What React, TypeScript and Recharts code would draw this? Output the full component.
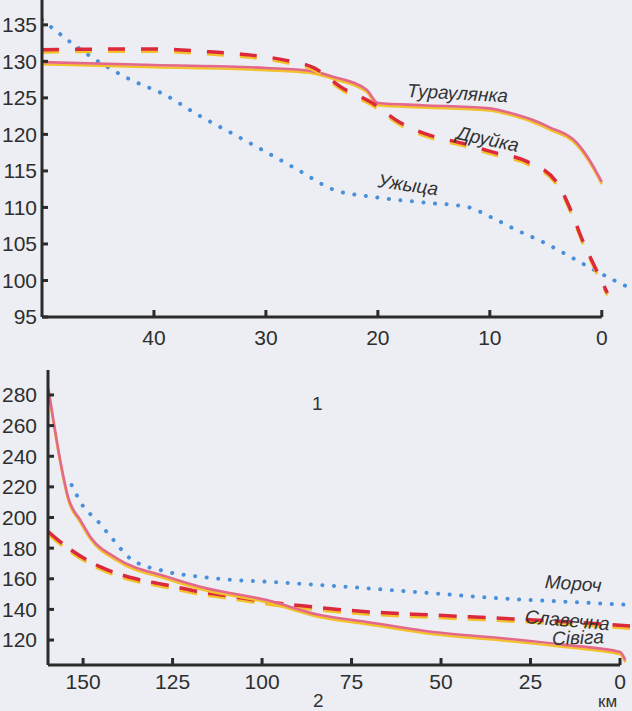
import React from "react";
import { LineChart, Line, XAxis, YAxis, ReferenceLine } from "recharts";

// top chart: rivers 1
const topKmTicks = [40, 30, 20, 10, 0];
const topHTicks = [95, 100, 105, 110, 115, 120, 125, 130, 135];

const turaulyankaKm = [50, 40, 30, 26, 24, 21, 20, 16, 10.3, 7.6, 6.2, 4.7, 2.2, 1.1, 0];
const turaulyankaH = [129.9, 129.5, 129.1, 128.7, 127.9, 126.1, 124.3, 124.0, 123.6, 122.7, 122.0, 121.0, 118.8, 116.5, 113.5];

const druykaKm = [50, 40, 35, 31.6, 28.4, 25.7, 23.2, 20.5, 18.1, 15.4, 12.5, 9.8, 6.7, 4.0, 2.9, 1.8, 0.6, -0.5];
const druykaH = [131.6, 131.7, 131.3, 130.9, 130.2, 129.1, 126.4, 124.3, 121.7, 119.9, 118.8, 117.6, 116.3, 113.4, 110.1, 105.8, 101.8, 98.3];

const uzhytsaKm = [50, 45, 42.1, 39, 36.1, 33.1, 30, 27.1, 23.9, 20.2, 15.4, 12.1, 9.8, 7.6, 5.3, 3.1, 1.1, -1.0, -2.5];
const uzhytsaH = [135.7, 130.0, 127.5, 125.4, 122.7, 120.2, 117.6, 115.1, 112.4, 111.4, 110.6, 110.1, 108.6, 106.9, 105.3, 103.5, 101.8, 100.1, 99.0];

// bottom chart: rivers 2
const botKmTicks = [150, 125, 100, 75, 50, 25, 0];
const botHTicks = [120, 140, 160, 180, 200, 220, 240, 260, 280];

const sivigaKm = [159.7, 158.3, 156.4, 154.1, 150.8, 148.0, 140.6, 126.6, 117.3, 98.7, 83.8, 70.7, 52.2, 33.5, 14.8, 0, -1.5];
const sivigaH = [284.4, 263.7, 237.6, 212.6, 198.4, 187.5, 173.4, 161.3, 154.8, 146.1, 136.3, 131.8, 125.2, 121.3, 116.7, 112.2, 106.9];

const slavechnaKm = [159.7, 154.6, 145.3, 135.9, 126.6, 117.3, 108, 98.7, 89.4, 70.8, 52.2, 33.5, 14.9, -2.8];
const slavechnaH = [190.7, 180.9, 167.9, 160.3, 155.9, 151.5, 148.3, 145.0, 142.5, 138.5, 136.3, 134.2, 132.0, 129.1];

const morochKm = [153.2, 149.9, 146.2, 141.5, 136.9, 126.6, 117.3, 108, 98.7, 83.8, 70.8, 52.2, 33.5, 14.9, -2.8];
const morochH = [221.2, 207.1, 198.4, 185.3, 173.4, 164.6, 161.3, 159.2, 158.1, 155.9, 153.8, 150.5, 147.2, 145.0, 142.9];

const zip = (km: number[], h: number[]) => km.map((k, i) => ({ km: k, h: h[i] }));

const ink = "#2b2b2b";
const pink = "#e4688a";
const red = "#dc2a3c";
const yellow = "#f2c12b";
const blue = "#4a8fdc";
const font = "'Liberation Sans', Arial, sans-serif";
const tickText = { fill: "#2e2e2e", fontSize: 21, fontFamily: font };

const label = (text: string, left: number, top: number, rot: number, size = 19) => (
  <div
    style={{
      position: "absolute",
      left,
      top,
      fontFamily: font,
      fontStyle: "italic",
      fontSize: size,
      color: "#333",
      transform: `rotate(${rot}deg)`,
      transformOrigin: "left center",
      whiteSpace: "nowrap",
    }}
  >
    {text}
  </div>
);

function SolidPair({ data }: { data: { km: number; h: number }[] }) {
  return null;
}

export default function App() {
  return (
    <div style={{ position: "absolute", left: 0, top: 0, width: 632, height: 711, background: "#eceef3", overflow: "hidden" }}>
      <div style={{ position: "absolute", left: 0, top: 0 }}>
        <LineChart width={632} height={360} margin={{ top: 0, right: 0, left: 0, bottom: 0 }}>
          <XAxis
            type="number"
            dataKey="km"
            domain={[-2.7, 50]}
            reversed
            allowDataOverflow
            ticks={topKmTicks}
            height={43}
            axisLine={false}
            tickSize={-7}
            tickMargin={20}
            tickLine={{ stroke: ink, strokeWidth: 3 }}
            tick={tickText}
          />
          <YAxis
            type="number"
            dataKey="h"
            domain={[95, 138.4]}
            allowDataOverflow
            ticks={topHTicks}
            width={42}
            tickSize={-6}
            tickMargin={11}
            axisLine={{ stroke: ink, strokeWidth: 3 }}
            tickLine={{ stroke: ink, strokeWidth: 3 }}
            tick={tickText}
          />
          <ReferenceLine segment={[{ x: 50, y: 95 }, { x: 0, y: 95 }]} stroke={ink} strokeWidth={3} ifOverflow="visible" />
          <Line data={zip(uzhytsaKm, uzhytsaH)} dataKey="h" type="monotone" stroke={blue} strokeWidth={4} strokeDasharray="0.1 11.5" strokeLinecap="round" dot={false} isAnimationActive={false} />
          <Line data={zip(turaulyankaKm, turaulyankaH)} dataKey="h" type="monotone" stroke={yellow} strokeWidth={2.6} transform="translate(0,2.2)" dot={false} isAnimationActive={false} />
          <Line data={zip(turaulyankaKm, turaulyankaH)} dataKey="h" type="monotone" stroke={pink} strokeWidth={2.6} dot={false} isAnimationActive={false} />
          <Line data={zip(druykaKm, druykaH)} dataKey="h" type="monotone" stroke={yellow} strokeWidth={3} strokeDasharray="17 16" transform="translate(0,2.5)" dot={false} isAnimationActive={false} />
          <Line data={zip(druykaKm, druykaH)} dataKey="h" type="monotone" stroke={red} strokeWidth={3.5} strokeDasharray="17 16" dot={false} isAnimationActive={false} />
        </LineChart>
      </div>

      <div style={{ position: "absolute", left: 0, top: 360 }}>
        <LineChart width={632} height={351} margin={{ top: 10, right: 0, left: 0, bottom: 0 }}>
          <XAxis
            type="number"
            dataKey="km"
            domain={[-3.35, 159.8]}
            reversed
            allowDataOverflow
            ticks={botKmTicks}
            height={46}
            axisLine={false}
            tickSize={-7}
            tickMargin={16}
            tickLine={{ stroke: ink, strokeWidth: 3 }}
            tick={tickText}
          />
          <YAxis
            type="number"
            dataKey="h"
            domain={[103.7, 296.3]}
            allowDataOverflow
            ticks={botHTicks}
            width={48}
            tickSize={-6}
            tickMargin={17}
            axisLine={{ stroke: ink, strokeWidth: 3 }}
            tickLine={{ stroke: ink, strokeWidth: 3 }}
            tick={tickText}
          />
          <ReferenceLine segment={[{ x: 159.8, y: 103.7 }, { x: 0, y: 103.7 }]} stroke={ink} strokeWidth={3} ifOverflow="visible" />
          <Line data={zip(morochKm, morochH)} dataKey="h" type="monotone" stroke={blue} strokeWidth={4} strokeDasharray="0.1 11.5" strokeLinecap="round" dot={false} isAnimationActive={false} />
          <Line data={zip(slavechnaKm, slavechnaH)} dataKey="h" type="monotone" stroke={yellow} strokeWidth={3} strokeDasharray="18 11" transform="translate(0,2.5)" dot={false} isAnimationActive={false} />
          <Line data={zip(slavechnaKm, slavechnaH)} dataKey="h" type="monotone" stroke={red} strokeWidth={3.5} strokeDasharray="18 11" dot={false} isAnimationActive={false} />
          <Line data={zip(sivigaKm, sivigaH)} dataKey="h" type="monotone" stroke={yellow} strokeWidth={2.6} transform="translate(0,2.2)" dot={false} isAnimationActive={false} />
          <Line data={zip(sivigaKm, sivigaH)} dataKey="h" type="monotone" stroke={pink} strokeWidth={2.6} dot={false} isAnimationActive={false} />
        </LineChart>
      </div>

      {label("Тураулянка", 407, 80, 3)}
      {label("Друйка", 457, 122, 12)}
      {label("Ужыца", 378, 170, 8)}
      {label("Мороч", 545, 571, 4)}
      {label("Славечна", 525, 606, 5)}
      {label("Сівіга", 552, 628, -2)}

      <div style={{ position: "absolute", left: 312, top: 393, fontFamily: font, fontSize: 19, color: "#333" }}>1</div>
      <div style={{ position: "absolute", left: 313, top: 690, fontFamily: font, fontSize: 19, color: "#333" }}>2</div>
      <div style={{ position: "absolute", left: 598, top: 692, fontFamily: font, fontSize: 17, color: "#333" }}>км</div>
    </div>
  );
}
